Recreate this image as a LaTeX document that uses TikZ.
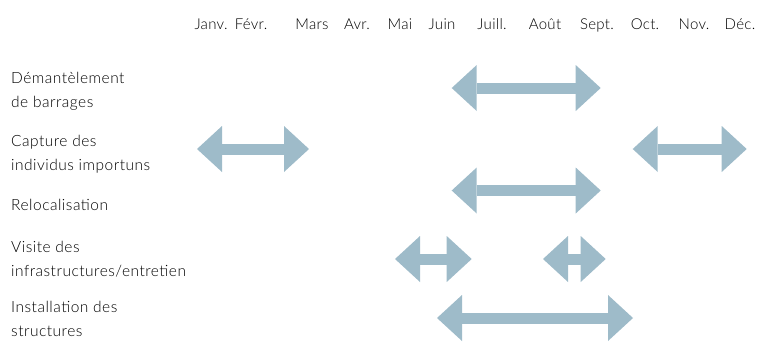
\documentclass[tikz,border=0pt]{standalone}
\usepackage{fontspec}
\setmainfont{Lato}[UprightFont = * Light]
\newfontfamily\tasklabelfont{Lato}[UprightFont = * Light, LetterSpace=3.2]
\newfontfamily\monthfont{Lato}[UprightFont = * Light, LetterSpace=2]
\usetikzlibrary{arrows.meta}
\definecolor{spanblue}{HTML}{9EBBC9}
\tikzset{
  month/.style={anchor=base, inner sep=0pt, font=\monthfont\fontsize{15}{24}\selectfont},
  task/.style={anchor=base west, inner sep=0pt, align=left, font=\tasklabelfont\fontsize{15.5}{24}\selectfont},
  span/.style={draw=spanblue, line width=11pt,
    {Triangle[length=25pt,width=46pt,line width=0pt]}-{Triangle[length=25pt,width=46pt,line width=0pt]}},
}
\begin{document}
\begin{tikzpicture}[x=1pt, y=-1pt]
\useasboundingbox (0,0) rectangle (759,341);

% month header
\node[month] (m1)  at (211,29.5) {Janv.};
\node[month] (m2)  at (251,29.5) {Févr.};
\node[month] (m3)  at (312,29.5) {Mars};
\node[month] (m4)  at (357,29.5) {Avr.};
\node[month] (m5)  at (400,29.5) {Mai};
\node[month] (m6)  at (442,29.5) {Juin};
\node[month] (m7)  at (492,29.5) {Juill.};
\node[month] (m8)  at (545,29.5) {Août};
\node[month] (m9)  at (597,29.5) {Sept.};
\node[month] (m10) at (645,29.5) {Oct.};
\node[month] (m11) at (694,29.5) {Nov.};
\node[month] (m12) at (740,29.5) {Déc.};

% activity labels (anchored on the baseline of their last line)
\node[task] (t1) at (11,107.3) {Démantèlement\\de barrages};
\node[task] (t2) at (11,170)   {Capture des\\individus importuns};
\node[task] (t3) at (11,210.7) {Relocalisation};
\node[task] (t4) at (11,276)   {Visite des\\infrastructures/entretien};
\node[task] (t5) at (11,336.5) {Installation des\\structures};

% period ends
\coordinate (d-a) at (451.7,88);   \coordinate (d-b) at (600.7,88);
\coordinate (c-a) at (197,149);    \coordinate (c-b) at (309,149);
\coordinate (c-c) at (632.7,149);  \coordinate (c-d) at (746.7,149);
\coordinate (r-a) at (451.7,190.5); \coordinate (r-b) at (600.7,190.5);
\coordinate (v-a) at (395,259);    \coordinate (v-b) at (471.7,259);
\coordinate (v-c) at (543,259);    \coordinate (v-d) at (605.7,259);
\coordinate (i-a) at (437,318);    \coordinate (i-b) at (633,318);

% periods
\draw[span] (d-a) -- (d-b);
\draw[span] (c-a) -- (c-b);
\draw[span] (c-c) -- (c-d);
\draw[span] (r-a) -- (r-b);
\draw[span] (v-a) -- (v-b);
\draw[span] (v-c) -- (v-d);
\draw[span] (i-a) -- (i-b);
\end{tikzpicture}
\end{document}
